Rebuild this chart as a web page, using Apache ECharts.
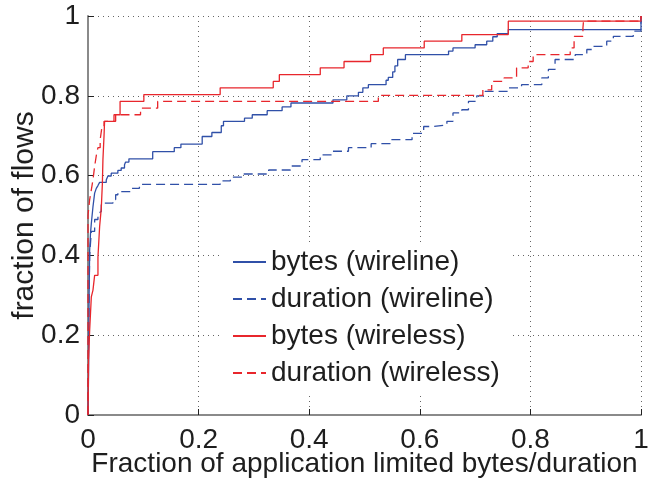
<!DOCTYPE html>
<html>
<head>
<meta charset="utf-8">
<script src="https://cdn.jsdelivr.net/npm/echarts@6/dist/echarts.min.js"></script>
<style>
  html, body { margin: 0; padding: 0; background: #fff; }
  #chart { width: 667px; height: 479px; }
</style>
</head>
<body>
<div id="chart"></div>
<script>
// CDF breakpoints: [fraction of application-limited bytes/duration, fraction of flows]
// Each point starts a new level of the step curve.
const bytesWireline = [
  [0, 0], [0.001, 0.10], [0.002, 0.30], [0.003, 0.413], [0.0045, 0.455], [0.006, 0.48],
  [0.009, 0.522], [0.012, 0.556], [0.015, 0.568], [0.018, 0.575], [0.021, 0.583],
  [0.033, 0.589], [0.036, 0.599], [0.042, 0.606], [0.054, 0.613], [0.06, 0.619],
  [0.066, 0.627], [0.068, 0.634], [0.074, 0.642], [0.117, 0.66], [0.156, 0.67],
  [0.168, 0.679], [0.2065, 0.698], [0.224, 0.708], [0.241, 0.725], [0.245, 0.736],
  [0.283, 0.744], [0.297, 0.7525], [0.324, 0.7626], [0.351, 0.772], [0.367, 0.782],
  [0.443, 0.79], [0.468, 0.80], [0.489, 0.8086], [0.497, 0.82], [0.507, 0.828],
  [0.539, 0.839], [0.543, 0.846], [0.551, 0.86], [0.555, 0.875], [0.56, 0.891],
  [0.574, 0.903], [0.652, 0.912], [0.66, 0.92], [0.70, 0.928], [0.721, 0.937],
  [0.732, 0.948], [0.74, 0.956], [0.76, 0.966], [1, 1]
];
const durationWireline = [
  [0, 0], [0.001, 0.20], [0.003, 0.40], [0.006, 0.46], [0.012, 0.49], [0.018, 0.505],
  [0.021, 0.51], [0.024, 0.531], [0.045, 0.54], [0.05, 0.552], [0.054, 0.56],
  [0.078, 0.568], [0.093, 0.578], [0.239, 0.587], [0.2575, 0.596], [0.2786, 0.604],
  [0.3267, 0.614], [0.366, 0.624], [0.387, 0.64], [0.42, 0.652], [0.441, 0.661],
  [0.471, 0.67], [0.512, 0.68], [0.5465, 0.69], [0.586, 0.706], [0.607, 0.723],
  [0.625, 0.727], [0.649, 0.736], [0.66, 0.757], [0.676, 0.765], [0.688, 0.786],
  [0.703, 0.80], [0.718, 0.811], [0.76, 0.82], [0.784, 0.828], [0.8206, 0.845],
  [0.8325, 0.866], [0.8446, 0.891], [0.881, 0.903], [0.902, 0.916], [0.914, 0.924],
  [0.938, 0.937], [0.95, 0.949], [0.986, 0.962], [1, 1]
];
const bytesWireless = [
  [0, 0], [0.001, 0.14], [0.003, 0.212], [0.006, 0.296], [0.009, 0.313], [0.012, 0.35],
  [0.018, 0.396], [0.021, 0.472], [0.024, 0.518], [0.026, 0.58], [0.027, 0.64],
  [0.029, 0.70], [0.030, 0.736], [0.047, 0.7525], [0.058, 0.786], [0.101, 0.803],
  [0.239, 0.82], [0.335, 0.836], [0.346, 0.853], [0.42, 0.87], [0.463, 0.886],
  [0.511, 0.903], [0.534, 0.92], [0.608, 0.937], [0.676, 0.9535], [0.76, 0.987], [1, 1]
];
const durationWireless = [
  [0, 0], [0, 0.50], [0.003, 0.54], [0.006, 0.564], [0.009, 0.59], [0.012, 0.623],
  [0.015, 0.65], [0.018, 0.67], [0.022, 0.69], [0.025, 0.72], [0.029, 0.736],
  [0.05, 0.7525], [0.095, 0.769], [0.126, 0.786], [0.525, 0.801], [0.714, 0.815],
  [0.73, 0.836], [0.7525, 0.845], [0.775, 0.87], [0.796, 0.886], [0.805, 0.903],
  [0.872, 0.92], [0.879, 0.949], [0.895, 0.97], [0.896, 0.987], [1, 1]
];

const seriesNames = ['bytes (wireline)', 'duration (wireline)', 'bytes (wireless)', 'duration (wireless)'];
const axisTitles = { x: 'Fraction of application limited bytes/duration', y: 'fraction of flows' };

const BLUE = '#3050a8';
const RED = '#e8262c';
const TEXT = '#1e1e1e';
const FONT = "'Liberation Sans', Arial, Helvetica, sans-serif";
const DASH = [9, 5];

function stepSeries(name, data, color, dashed, z) {
  return {
    name: name,
    type: 'line',
    step: 'end',
    data: data,
    symbol: 'none',
    z: z,
    animation: false,
    lineStyle: { color: color, width: 1.3, type: dashed ? DASH : 'solid' },
    itemStyle: { color: color }
  };
}

const axisCommon = {
  type: 'value',
  min: 0,
  max: 1,
  interval: 0.2,
  nameMoveOverlap: false,
  axisLine: { show: true, lineStyle: { color: '#8a8a8a', width: 2 } },
  axisTick: { show: true, inside: true, length: 6, lineStyle: { color: '#222', width: 1 } },
  splitLine: { show: true, lineStyle: { color: '#666', width: 1, type: [1, 4] } },
  axisLabel: { color: TEXT, fontFamily: FONT, fontSize: 28 },
  nameTextStyle: { color: TEXT, fontFamily: FONT, fontSize: 28 }
};

const chart = echarts.init(document.getElementById('chart'), null, { renderer: 'canvas' });
chart.setOption({
  backgroundColor: '#fff',
  animation: false,
  grid: {
    left: 88, right: 26, top: 16, bottom: 64,
    containLabel: false,
    outerBoundsMode: 'none'
  },
  xAxis: Object.assign({}, axisCommon, {
    name: axisTitles.x,
    nameLocation: 'middle',
    nameGap: 35,
    axisLabel: Object.assign({}, axisCommon.axisLabel, { margin: 11 })
  }),
  yAxis: Object.assign({}, axisCommon, {
    name: axisTitles.y,
    nameLocation: 'middle',
    nameGap: 48,
    nameTextStyle: Object.assign({}, axisCommon.nameTextStyle, { fontSize: 30 }),
    axisLabel: Object.assign({}, axisCommon.axisLabel, { margin: 8 })
  }),
  legend: {
    orient: 'vertical',
    left: 222,
    top: 242,
    padding: [4, 10, 6, 10],
    backgroundColor: '#fff',
    itemWidth: 33,
    itemHeight: 14,
    itemGap: 5,
    itemStyle: { color: 'transparent', borderWidth: 0, opacity: 0 },
    textStyle: { color: TEXT, fontFamily: FONT, fontSize: 28, lineHeight: 32 },
    data: seriesNames
  },
  series: [
    stepSeries(seriesNames[0], bytesWireline, BLUE, false, 3),
    stepSeries(seriesNames[1], durationWireline, BLUE, true, 2),
    stepSeries(seriesNames[2], bytesWireless, RED, false, 5),
    stepSeries(seriesNames[3], durationWireless, RED, true, 4)
  ]
});
</script>
</body>
</html>
